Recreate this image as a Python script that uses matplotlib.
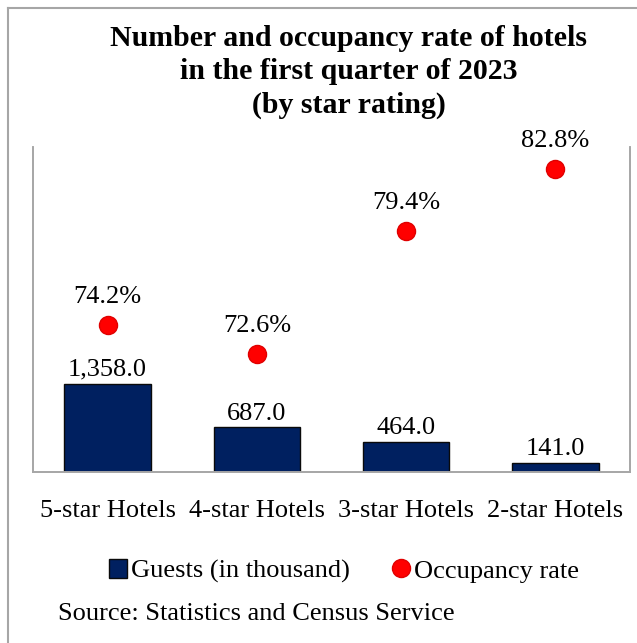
import matplotlib
matplotlib.use("Agg")
import matplotlib.pyplot as plt
from matplotlib.lines import Line2D
from matplotlib.patches import Patch

categories = ["5-star Hotels", "4-star Hotels", "3-star Hotels", "2-star Hotels"]
guests = [1358.0, 687.0, 464.0, 141.0]
occupancy = [74.2, 72.6, 79.4, 82.8]

plt.rcParams['font.family'] = ['Liberation Serif', 'DejaVu Serif']

fig = plt.figure(figsize=(6.37, 6.43), dpi=100)
ax = fig.add_axes([33/637, 1-472/643, (630-33)/637, (472-147)/643])
ax2 = ax.twinx()

x = list(range(len(categories)))
bars = ax.bar(x, guests, width=0.58, color='#002060', edgecolor='#0a0a0a', linewidth=1.0, zorder=2)
ax.set_xlim(-0.5, 3.5)
ax.set_ylim(0, 5000)
ax.set_yticks([])
ax.set_xticks(x)
ax.set_xticklabels(categories, fontsize=19)
ax.tick_params(axis='x', length=0, pad=20)
for s in ['top']:
    ax.spines[s].set_visible(False)
    ax2.spines[s].set_visible(False)
for a in (ax, ax2):
    for s in ['left', 'right', 'bottom']:
        a.spines[s].set_color('#a6a6a6')
        a.spines[s].set_linewidth(1.2)

for xi, v in zip(x, guests):
    ax.annotate(f"{v:,.1f}", (xi, v), xytext=(0, 2), textcoords='offset points',
                ha='center', va='bottom', fontsize=19)

ax2.plot(x, occupancy, linestyle='none', marker='o', markersize=13,
         markerfacecolor='#ff0000', markeredgecolor='#e00000', zorder=3)
ax2.set_ylim(66.1, 84.0)
ax2.set_yticks([])
for xi, v in zip(x, occupancy):
    ax2.annotate(f"{v:.1f}%", (xi, v), xytext=(0, 12), textcoords='offset points',
                 ha='center', va='bottom', fontsize=19)

fig.text(0.547, 1-72/643, "Number and occupancy rate of hotels\nin the first quarter of 2023\n(by star rating)",
         ha='center', va='center', fontsize=21.5, fontweight='bold', linespacing=1.28)

handles = [Patch(facecolor='#002060', edgecolor='#0a0a0a', label='Guests (in thousand)'),
           Line2D([], [], linestyle='none', marker='o', markersize=13,
                  markerfacecolor='#ff0000', markeredgecolor='#e00000', label='Occupancy rate')]
fig.legend(handles=handles, loc='center', bbox_to_anchor=(0.54, 1-571/643), ncol=2,
           frameon=False, fontsize=19, handlelength=0.7, handleheight=0.7,
           handletextpad=0.15, columnspacing=1.6)

fig.text(58/637, 1-614/643, "Source: Statistics and Census Service", ha='left', va='center', fontsize=19)

fig.add_artist(Line2D([8/637, 1], [1-8/643, 1-8/643], color='#a6a6a6', linewidth=1.5, transform=fig.transFigure))
fig.add_artist(Line2D([8/637, 8/637], [0, 1-8/643], color='#a6a6a6', linewidth=1.5, transform=fig.transFigure))

fig.savefig("out.png", dpi=100)
